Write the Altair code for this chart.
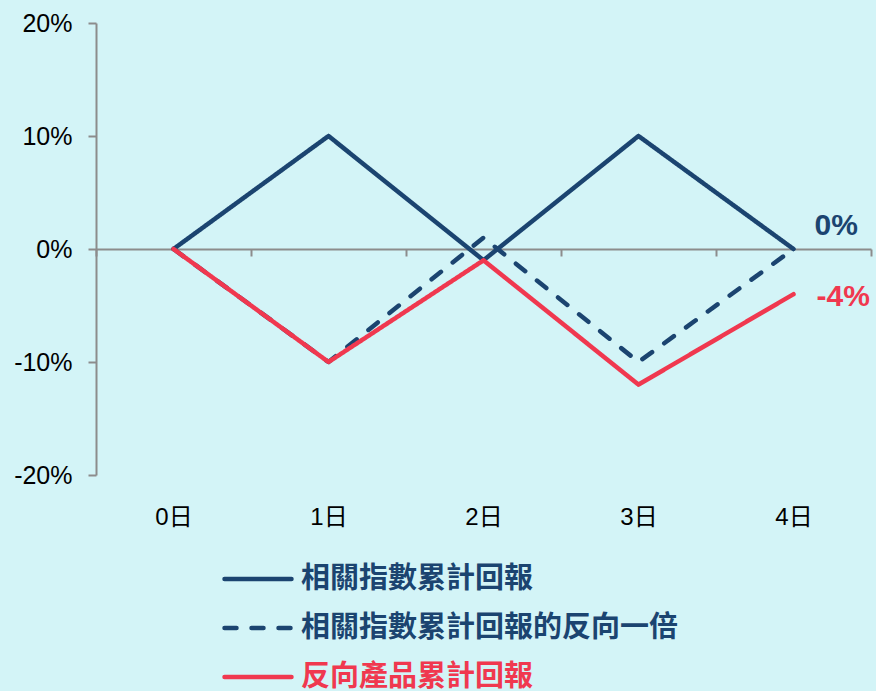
import altair as alt
import pandas as pd

# ---- data ----
days = [0, 1, 2, 3, 4]
day_labels = ["0日", "1日", "2日", "3日", "4日"]
series_names = ["相關指數累計回報", "相關指數累計回報的反向一倍", "反向產品累計回報"]
index_ret = [0.0, 0.10, -0.01, 0.10, 0.0]
inverse_ret = [0.0, -0.10, 0.01, -0.10, 0.0]
product_ret = [0.0, -0.10, -0.01, -0.12, -0.04]
y_ticks = [-0.2, -0.1, 0.0, 0.1, 0.2]
x_bounds = [-0.5, 0.5, 1.5, 2.5, 3.5, 4.5]
end_labels = ["0%", "-4%"]
legend_rows = [0, 1, 2]

NAVY = "#1b4470"
RED = "#f0384f"
GRAY = "#8c8c8c"
BG = "#d3f4f7"

rows = []
for name, vals in zip(series_names, [index_ret, inverse_ret, product_ret]):
    for d, v in zip(days, vals):
        rows.append({"day": d, "value": v, "series": name})
df = pd.DataFrame(rows)

end_df = pd.DataFrame([
    {"day": days[-1], "value": index_ret[-1], "label": end_labels[0]},
    {"day": days[-1], "value": product_ret[-1], "label": end_labels[1]},
])

legend_df = pd.DataFrame({"series": series_names, "row": legend_rows})

W, H = 775, 452
xscale = alt.Scale(domain=[x_bounds[0], x_bounds[-1]], nice=False, zero=False)
yscale = alt.Scale(domain=[y_ticks[0], y_ticks[-1]], nice=False)

label_expr = "[" + ",".join("'%s'" % s for s in day_labels) + "][datum.value]"

x_labels_axis = alt.Axis(orient="bottom", values=days, labelExpr=label_expr, domain=False,
                         ticks=False, grid=False, labelPadding=30, labelFontSize=24,
                         labelColor="black", labelFont="Liberation Sans, Noto Sans CJK TC",
                         title=None)
x_zero_axis = alt.Axis(orient="bottom", values=x_bounds, labels=False, domain=True,
                       domainColor=GRAY, domainWidth=2, ticks=True, tickColor=GRAY,
                       tickWidth=2, tickSize=7, grid=False, offset=-(H / 2), title=None)

y_enc = alt.Y("value:Q", scale=yscale,
              axis=alt.Axis(values=y_ticks, format=".0%",
                            labelExpr="replace(datum.label, '\u2212', '-')",
                            grid=False, domainColor=GRAY,
                            domainWidth=2, tickColor=GRAY, tickWidth=2, tickSize=8,
                            labelPadding=16, labelFontSize=25, labelColor="black",
                            labelFont="Liberation Sans", title=None))

color_enc = alt.Color("series:N", scale=alt.Scale(domain=series_names, range=[NAVY, NAVY, RED]),
                      legend=None)
dash_enc = alt.StrokeDash("series:N", scale=alt.Scale(domain=series_names,
                                                      range=[[1, 0], [12, 15], [1, 0]]),
                          legend=None)

line_layers = []
for i, name in enumerate(series_names):
    line_layers.append(
        alt.Chart(df).transform_filter(alt.datum.series == name)
        .mark_line(strokeWidth=4.5, strokeCap="round", strokeJoin="round")
        .encode(x=alt.X("day:Q", scale=xscale, axis=x_labels_axis if i == 0 else None),
                y=y_enc, color=color_enc, strokeDash=dash_enc)
    )

end_top = (alt.Chart(end_df).transform_filter(alt.datum.label == end_labels[0])
           .mark_text(align="left", baseline="middle", dx=21, dy=-23, fontSize=30,
                      fontWeight="bold", font="Liberation Sans", color=NAVY)
           .encode(x=alt.X("day:Q", scale=xscale, axis=x_zero_axis), y=y_enc, text="label:N"))
end_bot = (alt.Chart(end_df).transform_filter(alt.datum.label == end_labels[1])
           .mark_text(align="left", baseline="middle", dx=23, dy=3, fontSize=30,
                      fontWeight="bold", font="Liberation Sans", color=RED)
           .encode(x=alt.X("day:Q", scale=xscale, axis=None), y=y_enc, text="label:N"))

main = alt.layer(*line_layers, end_top, end_bot).resolve_axis(x="independent")

# manual legend below the plot
leg_y = alt.Y("row:Q", scale=alt.Scale(domain=[legend_rows[0], legend_rows[-1]],
                                       range=[556, 654], nice=False, zero=False), axis=None)
leg_rule = (alt.Chart(legend_df)
            .mark_rule(strokeWidth=4.5, strokeCap="round")
            .encode(x=alt.value(128.5), x2=alt.value(195.5), y=leg_y,
                    color=color_enc, strokeDash=dash_enc))
leg_text = (alt.Chart(legend_df)
            .mark_text(align="left", baseline="middle", fontSize=29, fontWeight="bold",
                       font="Noto Sans CJK TC")
            .encode(x=alt.value(205), y=leg_y, text="series:N", color=color_enc))
legend_layer = alt.layer(leg_rule, leg_text)

chart = (alt.layer(main, legend_layer)
         .resolve_scale(y="independent")
         .properties(width=W, height=H, background=BG,
                     padding={"left": 96, "top": 23, "right": 5, "bottom": 216},
                     autosize=alt.AutoSizeParams(type="none"))
         .configure_view(stroke=None))

chart.save("out.html", embed_options={"renderer": "svg", "actions": False})
